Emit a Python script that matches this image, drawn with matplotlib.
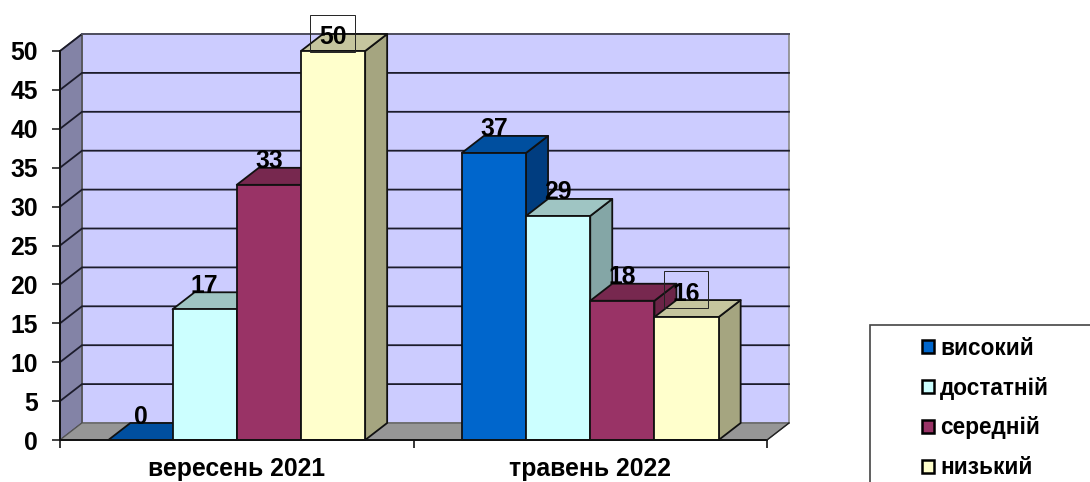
import matplotlib
matplotlib.use("Agg")
import matplotlib.pyplot as plt
from matplotlib.patches import Polygon, Rectangle, Patch

plt.rcParams['font.family'] = ['Liberation Sans', 'DejaVu Sans']

categories = ["вересень 2021", "травень 2022"]
levels = ["високий", "достатній", "середній", "низький"]
heights = {
    "високий": [0, 36.9],
    "достатній": [16.8, 28.8],
    "середній": [32.8, 17.9],
    "низький": [50, 15.8],
}
labels = {
    "високий": [0, 37],
    "достатній": [17, 29],
    "середній": [33, 18],
    "низький": [50, 16],
}
y_ticks = [0, 5, 10, 15, 20, 25, 30, 35, 40, 45, 50]

front = {"високий": "#0066CC", "достатній": "#CCFFFF", "середній": "#993366", "низький": "#FFFFCC"}
top = {"високий": "#004F9F", "достатній": "#9FC5C3", "середній": "#77284F", "низький": "#C5C59E"}
side = {"високий": "#003D80", "достатній": "#84A6A6", "середній": "#6B2447", "низький": "#A5A580"}

W, H = 1090, 482
fig = plt.figure(figsize=(W / 100, H / 100), dpi=100, facecolor="white")
L, R, T, B = 60, 767, 51, 440
ax = fig.add_axes([L / W, 1 - B / H, (R - L) / W, (B - T) / H])
ax.set_xlim(-0.5, 1.5)
ax.set_ylim(0, 50)
ax.patch.set_visible(False)
for s in ax.spines.values():
    s.set_visible(False)

dx = 22 / ((R - L) / 2)
dy = 17 / ((B - T) / 50)
x0, x1 = -0.5, 1.5
bw = 64.2 / ((R - L) / 2)
EDGE = "#111111"
FS = 17.8

def poly(pts, fc, ec=EDGE, lw=1.3, z=2):
    ax.add_patch(Polygon(pts, closed=True, fc=fc, ec=ec, lw=lw, zorder=z, clip_on=False, joinstyle="round"))

# walls
poly([(x0 + dx, dy), (x1 + dx, dy), (x1 + dx, 50 + dy), (x0 + dx, 50 + dy)], "#CCCCFF", ec="#8a8a8a", lw=1.2, z=1)
poly([(x0, 0), (x0 + dx, dy), (x0 + dx, 50 + dy), (x0, 50)], "#8383A6", ec="#444444", lw=1.0, z=1)
poly([(x0, 0), (x1, 0), (x1 + dx, dy), (x0 + dx, dy)], "#969696", ec="#555555", lw=0.8, z=1)

for v in y_ticks[1:]:
    ax.plot([x0, x0 + dx, x1 + dx], [v, v + dy, v + dy], color="#1c1c2c", lw=1.3, zorder=1.5,
            clip_on=False, solid_joinstyle="miter")
ax.plot([x0 + dx, x1 + dx], [50 + dy, 50 + dy], color="#555566", lw=1.3, zorder=1.5, clip_on=False)

# bars
z = 3
for c in range(len(categories)):
    for i, lev in enumerate(levels):
        v = heights[lev][c]
        a = c + (i - 2) * bw
        b = a + bw
        poly([(b, 0), (b + dx, dy), (b + dx, v + dy), (b, v)], side[lev], z=z)
        poly([(a, v), (b, v), (b + dx, v + dy), (a + dx, v + dy)], top[lev], z=z)
        if v > 0:
            poly([(a, 0), (b, 0), (b, v), (a, v)], front[lev], z=z)
        z += 0.1

# axis lines
ax.plot([x0, x1], [0, 0], color="#111111", lw=1.4, zorder=8, clip_on=False)
ax.plot([x0, x0], [0, 50], color="#111111", lw=1.4, zorder=8, clip_on=False)
ax.plot([x1, x1 + dx], [0, dy], color="#222222", lw=1.0, zorder=8, clip_on=False)

# ticks
ax.set_yticks(y_ticks)
ax.set_yticklabels([str(v) for v in y_ticks], fontsize=FS, fontweight="bold")
ax.tick_params(axis="y", length=6, width=1.1, pad=10, color="#111111")
ax.set_xticks([-0.5, 0.5, 1.5])
ax.set_xticklabels([])
ax.tick_params(axis="x", which="major", length=6, width=1.1)
ax.set_xticks([0, 1], minor=True)
ax.set_xticklabels(categories, minor=True, fontsize=FS, fontweight="bold")
ax.tick_params(axis="x", which="minor", length=0, pad=12.5)

# data labels
for c in range(len(categories)):
    for i, lev in enumerate(levels):
        v = heights[lev][c]
        xc = c + (i - 2 + 0.5) * bw
        off = 17 if labels[lev][c] == 50 else 26
        ax.annotate(str(labels[lev][c]), (xc, v), xytext=(0, off * 0.72), textcoords="offset points",
                    ha="center", va="center_baseline", fontsize=FS, fontweight="bold",
                    color="black", zorder=20, annotation_clip=False)

# thin boxes around two data labels
for (l, t, r, b) in [(310, 15, 355, 52), (664, 271, 708, 308)]:
    fig.add_artist(Rectangle((l / W, 1 - b / H), (r - l) / W, (b - t) / H, transform=fig.transFigure,
                             fc="none", ec="#222222", lw=0.7, zorder=30))

# legend
fig.add_artist(Rectangle((870 / W, 1 - 500 / H), 300 / W, 175 / H, transform=fig.transFigure,
                         fc="white", ec="#444444", lw=1.2, zorder=0.5))
handles = [Patch(fc=front[l], ec="black", lw=1.8) for l in levels]
leg = fig.legend(handles, levels, loc="upper left", bbox_to_anchor=(917 / W, 1 - 332 / H),
                 bbox_transform=fig.transFigure, frameon=False,
                 prop={"size": 16.3, "weight": "bold"}, handlelength=0.54, handleheight=0.54,
                 handletextpad=0.28, labelspacing=0.75, borderpad=0.2, borderaxespad=0)

fig.savefig("out.png", dpi=100, facecolor="white")
